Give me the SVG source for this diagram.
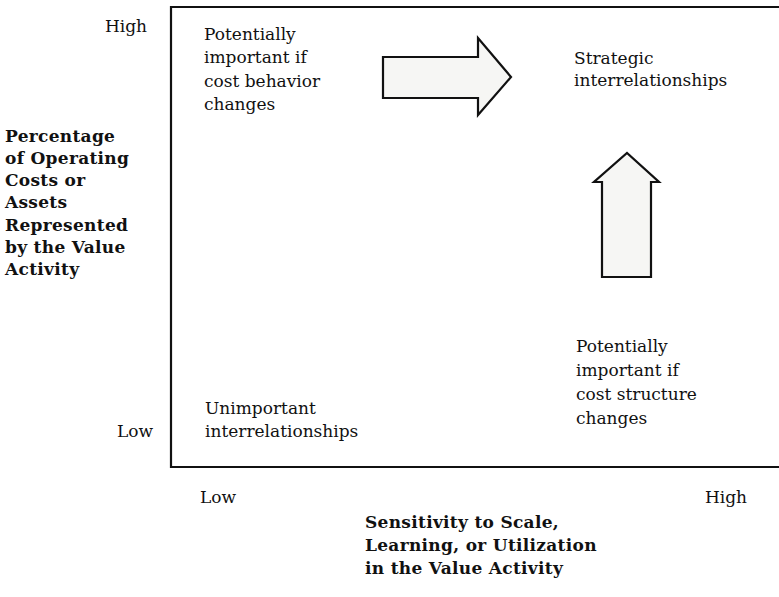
<svg xmlns="http://www.w3.org/2000/svg" width="779" height="597" viewBox="0 0 779 597">
<style>
text{font-family:"DejaVu Serif","Liberation Serif",serif;fill:#111;}
.r{font-size:17px;}
.b{font-size:17px;font-weight:bold;letter-spacing:0.3px;}
.frame{fill:none;stroke:#111;stroke-width:2.2;}
.arrow{fill:#f6f6f4;stroke:#111;stroke-width:2.2;stroke-linejoin:miter;}
</style>
<rect width="779" height="597" fill="#fff"/>
<g id="frame">
<path class="frame" d="M779,7 H171 V467 H779"/>
</g>
<g id="axis-y">
<text class="r" x="147" y="32" text-anchor="end">High</text>
<text class="r" x="153" y="437" text-anchor="end">Low</text>
<text class="b" x="5"><tspan x="5" y="142">Percentage</tspan><tspan x="5" y="164">of Operating</tspan><tspan x="5" y="186">Costs or</tspan><tspan x="5" y="208">Assets</tspan><tspan x="5" y="231">Represented</tspan><tspan x="5" y="253">by the Value</tspan><tspan x="5" y="275">Activity</tspan></text>
</g>
<g id="axis-x">
<text class="r" x="200" y="503">Low</text>
<text class="r" x="747" y="503" text-anchor="end">High</text>
<text class="b"><tspan x="365" y="528">Sensitivity to Scale,</tspan><tspan x="365" y="551">Learning, or Utilization</tspan><tspan x="365" y="574">in the Value Activity</tspan></text>
</g>
<g id="q-top-left">
<text class="r"><tspan x="204" y="40">Potentially</tspan><tspan x="204" y="63">important if</tspan><tspan x="204" y="87">cost behavior</tspan><tspan x="204" y="110">changes</tspan></text>
</g>
<g id="q-top-right">
<text class="r"><tspan x="574" y="64">Strategic</tspan><tspan x="574" y="86">interrelationships</tspan></text>
</g>
<g id="q-bottom-right">
<text class="r"><tspan x="576" y="352">Potentially</tspan><tspan x="576" y="376">important if</tspan><tspan x="576" y="400">cost structure</tspan><tspan x="576" y="424">changes</tspan></text>
</g>
<g id="q-bottom-left">
<text class="r"><tspan x="205" y="414">Unimportant</tspan><tspan x="205" y="437">interrelationships</tspan></text>
</g>
<g id="connectors">
<polygon class="arrow" points="383,57 478,57 478,38 511,77 478,115 478,98 383,98"/>
<polygon class="arrow" points="602,277 602,182 594,182 627,153 659,182 651,182 651,277"/>
</g>
</svg>
